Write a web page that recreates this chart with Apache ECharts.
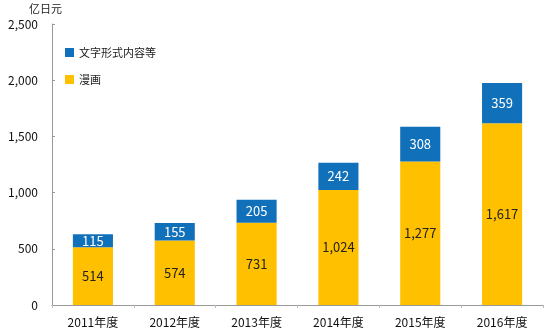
<!DOCTYPE html>
<html>
<head>
<meta charset="utf-8">
<script src="https://cdn.jsdelivr.net/npm/echarts@6/dist/echarts.min.js"></script>
<style>
  html, body { margin: 0; padding: 0; background: #fff; }
  #chart { width: 558px; height: 335px; }
</style>
</head>
<body>
<div id="chart"></div>
<script>
// Market size by fiscal year (unit: 100 million yen)
const years = ['2011年度', '2012年度', '2013年度', '2014年度', '2015年度', '2016年度'];
const manga = [514, 574, 731, 1024, 1277, 1617];
const textContent = [115, 155, 205, 242, 308, 359];
const yTicks = [0, 500, 1000, 1500, 2000, 2500];

const FONT = '"Noto Sans CJK JP", "Noto Sans", sans-serif';
const fmt = v => v.toLocaleString('en-US');

const chart = echarts.init(document.getElementById('chart'));
chart.setOption({
  animation: false,
  textStyle: { fontFamily: FONT },
  grid: { left: 52, right: 15, top: 24, bottom: 30 },
  legend: {
    left: 60, top: 42, orient: 'vertical', itemGap: 16,
    itemWidth: 9, itemHeight: 9, icon: 'rect',
    textStyle: { fontSize: 11, color: '#222', fontFamily: FONT },
    data: ['文字形式内容等', '漫画']
  },
  xAxis: {
    type: 'category', data: years,
    axisLine: { lineStyle: { color: '#999' } },
    axisTick: { show: true, lineStyle: { color: '#bbb' }, length: 3 },
    axisLabel: { color: '#111', fontSize: 12, margin: 11 }
  },
  yAxis: {
    type: 'value', min: yTicks[0], max: yTicks[yTicks.length - 1], interval: 500,
    name: '亿日元', nameGap: 10,
    nameTextStyle: { color: '#222', fontSize: 11, align: 'right', padding: [0, -10, 0, 0] },
    axisLine: { show: true, lineStyle: { color: '#999' } },
    axisTick: { show: true, inside: true, length: 3, lineStyle: { color: '#999' } },
    splitLine: { show: false },
    axisLabel: { color: '#111', fontSize: 12, margin: 14, formatter: v => fmt(v) }
  },
  series: [
    {
      name: '漫画', type: 'bar', stack: 'total', data: manga, barWidth: '49%',
      itemStyle: { color: '#FFC000' },
      label: { show: true, position: 'inside', color: '#222', fontSize: 13, formatter: p => fmt(p.value) }
    },
    {
      name: '文字形式内容等', type: 'bar', stack: 'total', data: textContent, barWidth: '49%',
      itemStyle: { color: '#1170BA' },
      label: { show: true, position: 'inside', color: '#fff', fontSize: 13, formatter: p => fmt(p.value) }
    }
  ]
});
</script>
</body>
</html>
